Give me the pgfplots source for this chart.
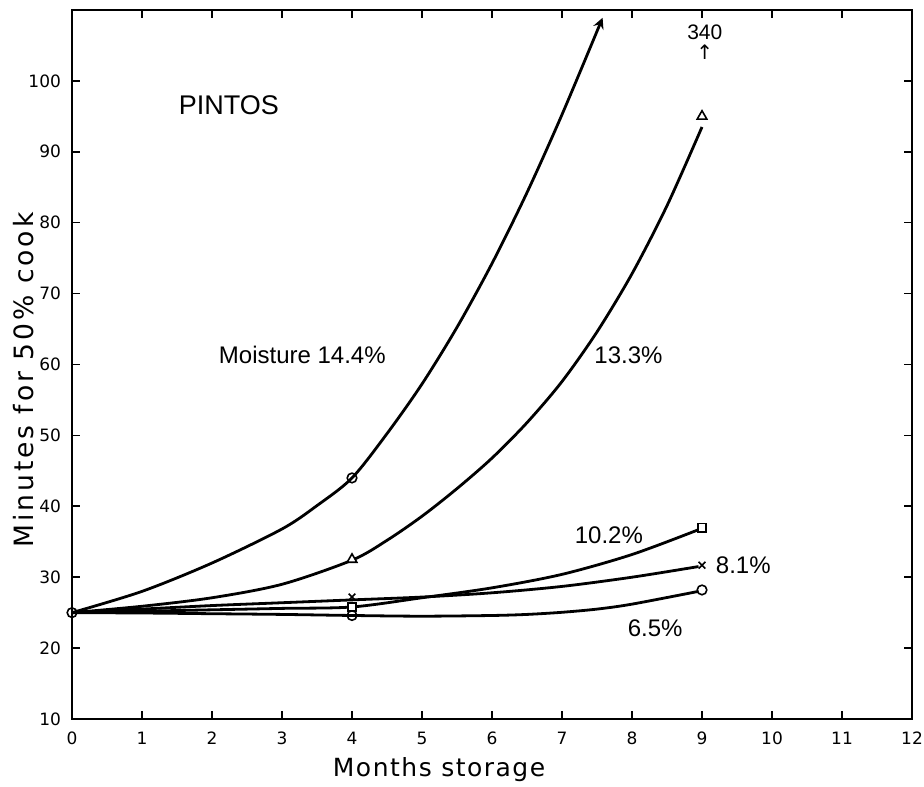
\documentclass[border=0pt]{standalone}
\usepackage{fontspec}
\setmainfont{DejaVu Sans}
\newfontfamily\lib{Liberation Sans}
\newfontfamily\labx[LetterSpace=6]{DejaVu Sans}
\newfontfamily\laby[LetterSpace=11]{DejaVu Sans}
\usepackage{pgfplots}
\pgfplotsset{compat=1.18}
\begin{document}
\begin{tikzpicture}
\begin{axis}[
 scale only axis, width=420pt, height=354.5pt,
 xmin=0, xmax=12, ymin=10, ymax=110,
 xtick={0,...,12}, ytick={10,20,...,100},
 tick align=inside,
 tick style={line width=0.8pt, black},
 major tick length=4pt,
 axis line style={line width=0.9pt},
 /pgf/number format/assume math mode=true,
 ticklabel style={font=\fontsize{8.5}{10}\selectfont},
 xticklabel style={yshift=-3pt},
 yticklabel style={xshift=-2pt},
 xlabel={\labx Months storage}, ylabel={\laby Minutes for 50\% cook},
 xlabel style={font=\fontsize{12.5}{14}\selectfont, at={(axis description cs:0.437,-0.0719)}, anchor=center},
 ylabel style={font=\fontsize{13.3}{14}\selectfont, at={(axis description cs:-0.058,0.478)}, anchor=center},
 clip=false,
]
\coordinate (sw) at (rel axis cs:0,0);
\coordinate (ne) at (rel axis cs:1,1);
% 14.4%
\addplot[line width=1.4pt, smooth, -stealth] coordinates {(0,25)(1,28)(2,32)(3,36.8)(3.5,40.1)(4,44)(4.5,50.25)(5,57.25)(5.5,65.25)(6,74.25)(6.5,84.25)(7,95.25)(7.58,108.9)};
% 13.3%
\addplot[line width=1.4pt, smooth] coordinates {(0,25)(1,25.9)(2,27.1)(3,29)(4,32.4)(4.5,35.2)(5,38.6)(5.5,42.5)(6,46.8)(6.5,51.8)(7,57.6)(7.5,64.6)(8,72.8)(8.5,82.4)(9,93.5)};
% 10.2%
\addplot[line width=1.4pt, smooth] coordinates {(0,25)(1,25.2)(2,25.4)(3,25.6)(4,25.8)(5,27.1)(6,28.5)(7,30.4)(8,33.2)(8.95,36.7)};
% 8.1%
\addplot[line width=1.4pt, smooth] coordinates {(0,25)(1,25.5)(2,26)(3,26.4)(4,26.8)(5,27.2)(6,27.8)(7,28.7)(8,30)(8.95,31.5)};
% 6.5%
\addplot[line width=1.4pt, smooth] coordinates {(0,25)(1,24.95)(2,24.85)(3,24.75)(4,24.6)(5,24.5)(6,24.6)(6.5,24.75)(7,25.05)(7.5,25.5)(8,26.2)(8.95,28)};
% markers
\addplot[only marks, mark=o, mark size=2.4pt, mark options={fill=white, line width=0.8pt}] coordinates {(0,25)(4,44)(4,24.6)(9,28.2)};
\addplot[only marks, mark=triangle*, mark size=2.8pt, mark options={fill=white, line width=0.8pt}] coordinates {(4,32.5)(9,95)};
\addplot[only marks, mark=square*, mark size=2.1pt, mark options={fill=white, line width=0.8pt}] coordinates {(4,25.8)(9,37)};
\addplot[only marks, mark=x, mark size=2.4pt, mark options={line width=0.8pt}] coordinates {(4,27.2)(9,31.7)};
% annotations
\node[font=\lib\fontsize{13.5}{15}\selectfont] at (axis cs:2.24,96.5) {PINTOS};
\node[font=\lib\fontsize{12}{14}\selectfont] at (axis cs:3.29,61.3) {Moisture 14.4\%};
\node[font=\lib\fontsize{12}{14}\selectfont] at (axis cs:7.95,61.3) {13.3\%};
\node[font=\lib\fontsize{12}{14}\selectfont] at (axis cs:7.67,35.9) {10.2\%};
\node[font=\lib\fontsize{12}{14}\selectfont] at (axis cs:9.59,31.7) {8.1\%};
\node[font=\lib\fontsize{12}{14}\selectfont] at (axis cs:8.33,22.8) {6.5\%};
\node[font=\lib\fontsize{10.5}{12}\selectfont] at (axis cs:9.04,106.9) {340};
\node[font=\fontsize{10}{12}\selectfont] at (axis cs:9.04,104) {↑};
\end{axis}
\pgfresetboundingbox
\path ([shift={(-36pt,-33.5pt)}]sw) rectangle ([shift={(6pt,5pt)}]ne);
\end{tikzpicture}
\end{document}
